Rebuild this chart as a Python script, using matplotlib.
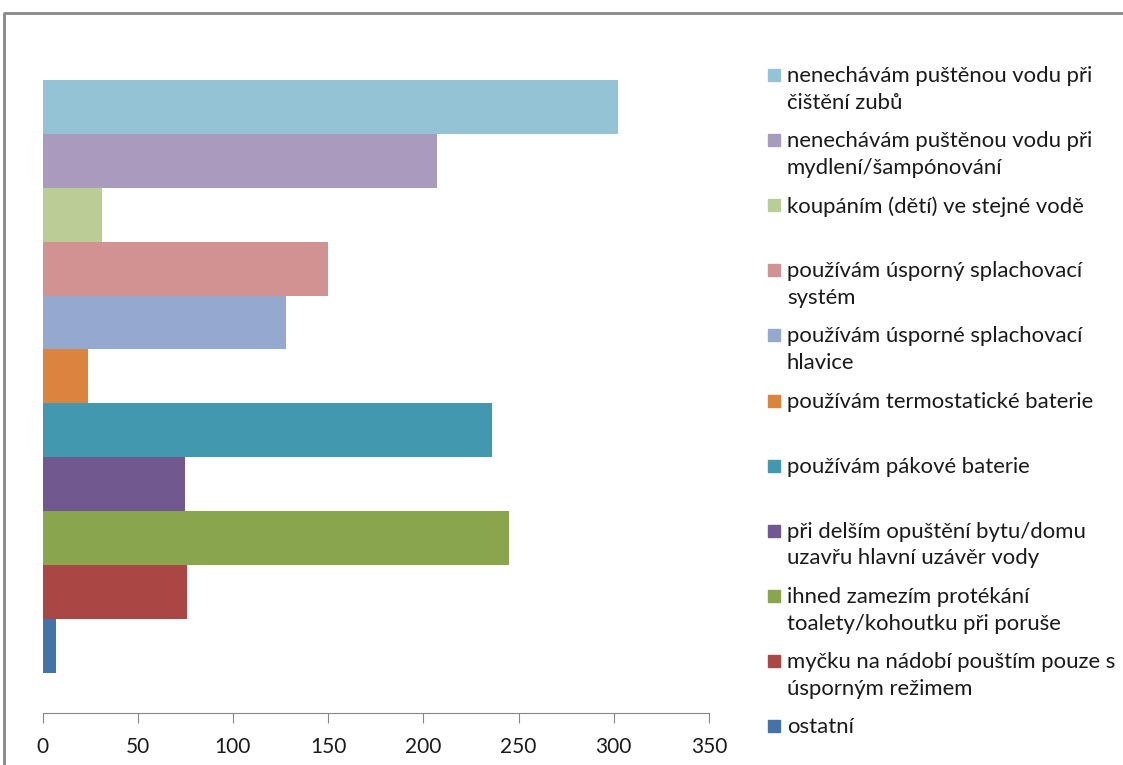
import matplotlib.pyplot as plt
from matplotlib.patches import Rectangle
from matplotlib.lines import Line2D

# data (top to bottom as in the chart)
labels = ['nenechávám puštěnou vodu při\nčištění zubů',
          'nenechávám puštěnou vodu při\nmydlení/šampónování',
          'koupáním (dětí) ve stejné vodě',
          'používám úsporný splachovací\nsystém',
          'používám úsporné splachovací\nhlavice',
          'používám termostatické baterie',
          'používám pákové baterie',
          'při delším opuštění bytu/domu\nuzavřu hlavní uzávěr vody',
          'ihned zamezím protékání\ntoalety/kohoutku při poruše',
          'myčku na nádobí pouštím pouze s\núsporným režimem',
          'ostatní']
values = [302, 207, 31, 150, 128, 24, 236, 75, 245, 76, 7]
colors = ['#93C3D4', '#A99BBD', '#BACD96', '#D19392', '#94A9D0', '#DB843D',
          '#4298AF', '#71588F', '#89A54E', '#AA4643', '#4572A7']
xticks = [0, 50, 100, 150, 200, 250, 300, 350]

W, H = 1123, 765
fig = plt.figure(figsize=(W / 100, H / 100), dpi=100)
plt.rcParams['font.family'] = ['Lato', 'DejaVu Sans']

ax = fig.add_axes([42.5 / W, (H - 713) / H, (709 - 42.5) / W, (713 - 39.7) / H])
n = len(values)
for i in range(n):
    ax.barh(n - 1 - i, values[i], height=1.0, color=colors[i], edgecolor='none')

ax.set_xlim(0, 350)
ax.set_ylim(-1.248, 11.248)
ax.set_xticks(xticks)
ax.set_yticks([])
for s in ['left', 'right', 'top']:
    ax.spines[s].set_visible(False)
ax.spines['bottom'].set_color('#868686')
ax.tick_params(axis='x', direction='out', length=7, color='#868686',
               labelsize=15, pad=10, labelcolor='#1a1a1a')

# legend drawn by hand (entries evenly spaced)
for i in range(n):
    yc = 75 + 65.1 * i
    fig.add_artist(Rectangle((768 / W, (H - yc - 6) / H), 12 / W, 12 / H,
                             transform=fig.transFigure, color=colors[i]))
    fig.text(787 / W, (H - yc + 9) / H, labels[i], fontsize=15.9,
             va='top', ha='left', color='#1a1a1a', linespacing=1.42)

# outer frame
fig.add_artist(Line2D([4 / W, 4 / W, 1.01], [-0.01, (H - 13) / H, (H - 13) / H],
                      transform=fig.transFigure, color='#888888', lw=2))

fig.savefig('out.png', dpi=100)
